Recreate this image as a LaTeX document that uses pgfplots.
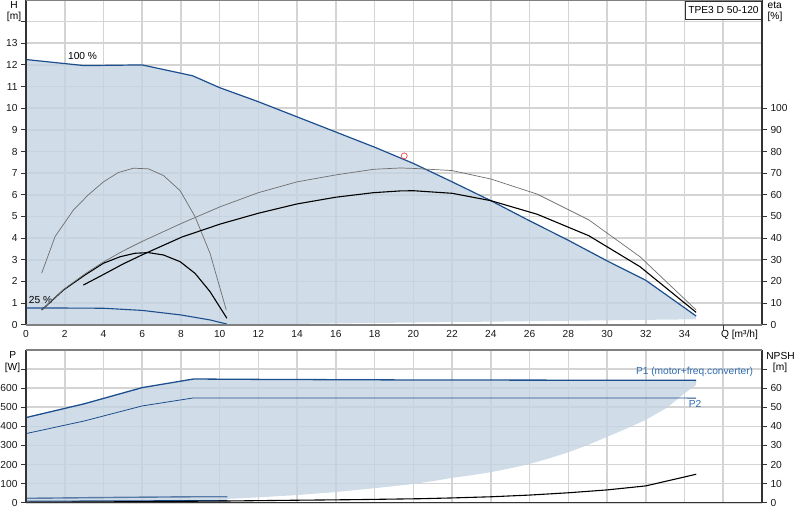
\documentclass[border=0pt]{standalone}
\usepackage{fontspec}
\setmainfont{Liberation Sans}
\usepackage{pgfplots}
\pgfplotsset{compat=1.18}

\definecolor{curveblue}{HTML}{1D4F8E}
\definecolor{steelblue}{HTML}{5A7DA8}
\definecolor{labelblue}{HTML}{2F6CB0}
\definecolor{areafill}{HTML}{C4D3E2}
\definecolor{gridgray}{HTML}{D4D4D4}
\definecolor{etagray}{HTML}{6E6E6E}
\definecolor{framecol}{HTML}{333333}
\definecolor{markred}{HTML}{E8504F}

\newcommand{\lbl}{\fontsize{10.2}{12}\selectfont}

\pgfplotsset{
  base/.style={
    scale only axis, width=736pt, xmin=0, xmax=38,
    axis line style={draw=none},
    tick label style={font=\lbl, text=black!90},
    /pgf/number format/assume math mode=true,
    tick align=outside, major tick length=5pt,
    tick style={framecol, line width=0.9pt},
  },
  gridaxis/.style={
    base, major tick length=0pt,
    grid=major, grid style={gridgray, line width=1.6pt},
    xtick={0,2,...,38}, yticklabels={},
  },
}

\begin{document}
\begin{tikzpicture}
\path[use as bounding box] (0pt,0pt) rectangle (800pt,520pt);

% ---------- upper chart: H and eta ----------
\begin{axis}[gridaxis, at={(26pt,195.3pt)}, anchor=south west, height=324.7pt,
  ymin=0, ymax=15, ytick={0,1,...,15},
  xticklabels={0,2,4,6,8,10,12,14,16,18,20,22,24,26,28,30,32,34},
  xticklabel style={yshift=-2.5pt}]
\end{axis}

\begin{axis}[base, at={(26pt,195.3pt)}, anchor=south west, height=324.7pt,
  ymin=0, ymax=15, axis y line*=left, hide x axis,
  ytick={0,1,...,14}, yticklabels={0,1,2,3,4,5,6,7,8,9,10,11,12,13}]
% operating range
\addplot[fill=areafill, fill opacity=0.8, draw=none] coordinates {
  (0,12.25) (3,11.97) (6,12.0) (8.6,11.5) (10,10.95) (12,10.3) (14,9.6)
  (16,8.9) (18,8.2) (20,7.45) (22,6.6) (24,5.73) (26,4.8) (28,3.9)
  (30,2.95) (32,2.05) (34.6,0.4) (34.6,0.25) (20,0.1) (10.4,0) (0,0)
} -- cycle;
% H at 25 %
\addplot[curveblue, line width=1.1pt] coordinates {
  (0,0.77) (2,0.77) (4,0.76) (6,0.66) (8,0.45) (9.5,0.22) (10.37,0.03)
};
% H at 100 %
\addplot[curveblue, line width=1.2pt] coordinates {
  (0,12.25) (3,11.97) (6,12.0) (8.6,11.5) (10,10.95) (12,10.3) (14,9.6)
  (16,8.9) (18,8.2) (20,7.45) (22,6.6) (24,5.73) (26,4.8) (28,3.9)
  (30,2.95) (32,2.05) (34.6,0.4)
};
\addplot[only marks, mark=o, mark size=3pt, markred, mark options={line width=0.7pt}]
  coordinates {(19.53,7.8)};
\node[anchor=base, font=\lbl, inner sep=0pt] at (axis cs:2.92,12.23) {100 \%};
\node[anchor=base, font=\lbl, inner sep=0pt] at (axis cs:0.75,0.99) {25 \%};
\end{axis}

\begin{axis}[base, at={(26pt,195.3pt)}, anchor=south west, height=324.7pt,
  ymin=0, ymax=150, axis y line*=right, hide x axis, clip=false,
  ytick={0,10,...,100}]
% eta curves, 25 % speed
\addplot[etagray, line width=0.7pt] coordinates {
  (0.81,23.8) (1.5,40.7) (2.45,53) (3.22,60) (4.0,66) (4.77,70.3) (5.55,72.3)
  (6.32,72) (7.1,68.9) (7.96,61.9) (8.73,49.9) (9.5,33) (10.34,6.8)
};
\addplot[black, line width=1.1pt] coordinates {
  (0.81,6.8) (1.93,16) (3.05,23) (4.0,28.4) (4.86,31.4) (5.63,33) (6.32,33.3)
  (7.1,32.2) (7.96,29.1) (8.73,23.7) (9.5,15.3) (10.37,3)
};
% eta curves, 100 % speed
\addplot[etagray, line width=0.7pt] coordinates {
  (0.81,6.8) (1.93,16.2) (3.05,23.5) (4.0,29) (5.0,34) (5.98,38.4) (8.05,46.9)
  (10.03,54.5) (12,61) (14,66) (16,69.2) (17.95,71.8) (19.33,72.4) (20,72.2)
  (22,71.2) (24,67.3) (26.4,60.3) (29.06,48.4) (31.7,31.4) (34.6,6.8)
};
\addplot[black, line width=1.1pt] coordinates {
  (2.96,18.3) (4,23.2) (5,28) (5.98,32.2) (8.05,40.5) (10.03,46.5) (12,51.5)
  (14,55.8) (16,58.9) (17.95,61) (19.33,61.8) (20,61.9) (22,60.7) (24,57.3)
  (26.4,51) (29.06,41.1) (31.7,26.8) (34.6,5.7)
};
% frame
\draw[framecol, line width=1.2pt] (rel axis cs:0,0) -- (rel axis cs:0,1);
\draw[framecol, line width=1.2pt] (rel axis cs:1,0) -- (rel axis cs:1,1);
\draw[gray, line width=1.2pt] (rel axis cs:0,1) -- (rel axis cs:1,1);
\draw[gray, line width=2pt] (rel axis cs:0,0) -- (rel axis cs:1,0);
\draw[framecol, line width=0.9pt] (axis cs:36,0) -- ++(0,-5pt);
\node[draw=framecol, fill=white, line width=0.7pt, anchor=north east, font=\lbl,
  inner xsep=3pt, inner ysep=5pt, yshift=-1.5pt] at (rel axis cs:1,1) {TPE3 D 50-120};
\end{axis}

\node[anchor=base, font=\lbl, inner sep=0pt] at (14pt,511.7pt) {H};
\node[anchor=base, font=\lbl, inner sep=0pt] at (14pt,500pt) {[m]};
\node[anchor=base, font=\lbl, inner sep=0pt] at (774.7pt,511.7pt) {eta};
\node[anchor=base, font=\lbl, inner sep=0pt] at (775pt,500pt) {[\%]};
\node[anchor=base, font=\lbl, inner sep=0pt] at (739.5pt,182.7pt) {Q [m³/h]};

% ---------- lower chart: P and NPSH ----------
\begin{axis}[gridaxis, at={(26pt,17.3pt)}, anchor=south west, height=152.7pt,
  ymin=0, ymax=800, ytick={0,100,...,800}, xticklabels={}]
\end{axis}

\begin{axis}[base, at={(26pt,17.3pt)}, anchor=south west, height=152.7pt,
  ymin=0, ymax=800, axis y line*=left, hide x axis,
  ytick={0,100,...,700}, yticklabels={0,100,200,300,400,500,600}]
\addplot[fill=areafill, fill opacity=0.8, draw=none] coordinates {
  (0,446) (3,518) (6,603) (8.65,646) (12,644) (20,641) (34.6,640)
  (34.6,617) (33.9,565) (33.1,498) (32,434) (31,388) (30,345) (29,302)
  (28,264) (27,232) (26,203) (25,180) (24,160) (23,144) (22,130) (21,113)
  (20,98) (18,76) (16,56) (14,40) (12,28) (10.4,20) (10.4,8) (0,5)
} -- cycle;
% P1 and P2 at 25 %
\addplot[steelblue, line width=1.4pt] coordinates {
  (0,23) (3,26) (6,29) (8.6,31) (10.4,31)
};
\addplot[curveblue, line width=1pt] coordinates {
  (0,8) (3,9) (6,10) (8.6,11) (10.4,11)
};
% P1 and P2 at 100 %
\addplot[curveblue, line width=1.3pt] coordinates {
  (0,446) (3,518) (6,603) (8.65,648) (12,646) (20,643) (34.6,641)
};
\addplot[curveblue, line width=0.8pt] coordinates {
  (0,362) (3,428) (6,507) (8.65,549) (34.6,548)
};
\node[anchor=base east, font=\lbl, text=labelblue, inner sep=0pt] at (axis cs:37.55,670) {P1 (motor+freq.converter)};
\node[anchor=base, font=\lbl, text=labelblue, inner sep=0pt] at (axis cs:34.55,500) {P2};
\end{axis}

\begin{axis}[base, at={(26pt,17.3pt)}, anchor=south west, height=152.7pt,
  ymin=0, ymax=80, axis y line*=right, hide x axis, clip=false,
  ytick={0,10,...,70}, yticklabels={0,10,20,30,40,50,60}]
% NPSH
\addplot[black, line width=1.1pt] coordinates {
  (0,0.2) (5,0.5) (10.4,0.9) (14,1.3) (17,1.6) (20.4,2.1) (22,2.5) (24,3.1)
  (26,4.0) (28,5.2) (30,6.7) (32,8.8) (34.6,14.9)
};
\draw[framecol, line width=1.2pt] (rel axis cs:0,0) -- (rel axis cs:0,1);
\draw[framecol, line width=1.2pt] (rel axis cs:1,0) -- (rel axis cs:1,1);
\draw[gray, line width=1.2pt] (rel axis cs:0,1) -- (rel axis cs:1,1);
\draw[framecol, line width=1.5pt] (rel axis cs:0,0) -- (rel axis cs:1,0);
\end{axis}

\node[anchor=base, font=\lbl, inner sep=0pt] at (12.8pt,161.7pt) {P};
\node[anchor=base, font=\lbl, inner sep=0pt] at (12.5pt,150pt) {[W]};
\node[anchor=base, font=\lbl, inner sep=0pt] at (780.5pt,161pt) {NPSH};
\node[anchor=base, font=\lbl, inner sep=0pt] at (780pt,149.3pt) {[m]};
\end{tikzpicture}
\end{document}
